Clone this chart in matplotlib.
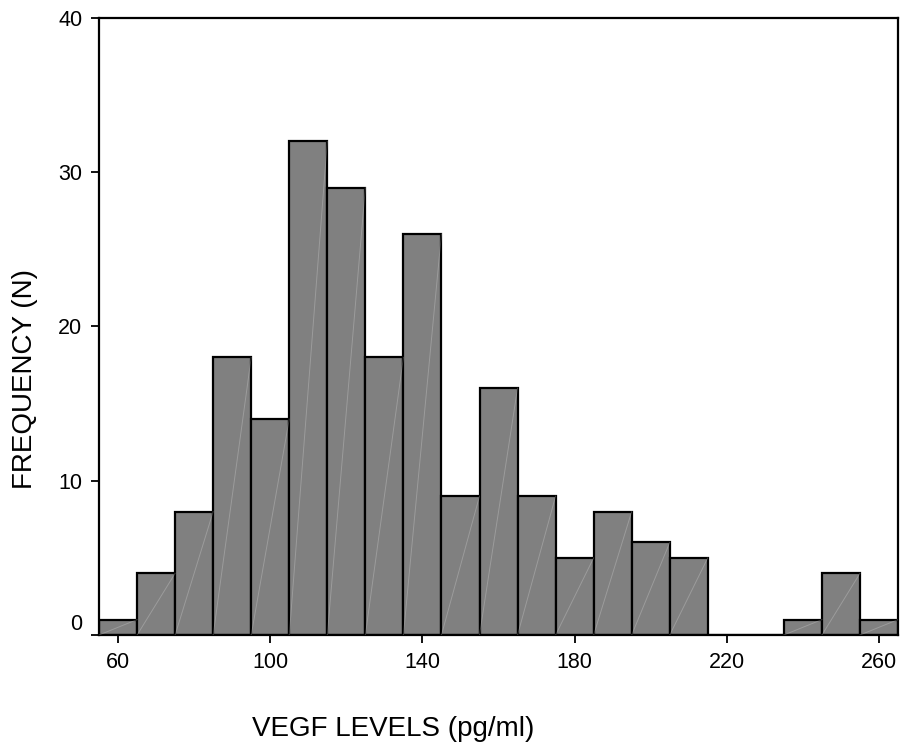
import numpy as np
import matplotlib.pyplot as plt
import matplotlib.transforms as mtransforms

plt.rcParams['font.family'] = ['Liberation Sans', 'DejaVu Sans']

# histogram bins (centres, width 10) and counts
bin_centres = [60, 70, 80, 90, 100, 110, 120, 130, 140, 150, 160,
               170, 180, 190, 200, 210, 220, 230, 240, 250, 260]
counts = [1, 4, 8, 18, 14, 32, 29, 18, 26, 9, 16,
          9, 5, 8, 6, 5, 0, 0, 1, 4, 1]
bin_width = 10

x_ticks = [60, 100, 140, 180, 220, 260]
y_ticks = [0, 10, 20, 30, 40]

fig = plt.figure(figsize=(9.02, 7.49), dpi=100)
ax = fig.add_axes([0.1098, 0.1522, 0.8858, 0.8238])

ax.bar(bin_centres, counts, width=bin_width, color='#808080',
       edgecolor='black', linewidth=1.6, zorder=2)

# faint diagonal shading lines seen inside the bars
for c, n in zip(bin_centres, counts):
    if n > 0:
        ax.plot([c - bin_width / 2, c + bin_width / 2], [0, n],
                color='white', alpha=0.22, lw=0.7, zorder=3)

ax.set_xlim(55, 265)
ax.set_ylim(0, 40)
ax.set_xticks(x_ticks)
ax.set_yticks(y_ticks)
ax.tick_params(direction='out', length=6, width=1.3, labelsize=15.5, pad=6)

# the "0" label sits a little above its tick in the original
lbl0 = ax.get_yticklabels()[0]
lbl0.set_transform(lbl0.get_transform() +
                   mtransforms.ScaledTranslation(0, 13 / 100, fig.dpi_scale_trans))

for s in ax.spines.values():
    s.set_linewidth(1.6)

fig.text(0.436, 0.018, 'VEGF LEVELS (pg/ml)', fontsize=20, ha='center', va='baseline')
fig.text(0.013, 0.494, 'FREQUENCY (N)', fontsize=20, rotation=90, ha='left', va='center')

plt.savefig('out.png', dpi=100)
